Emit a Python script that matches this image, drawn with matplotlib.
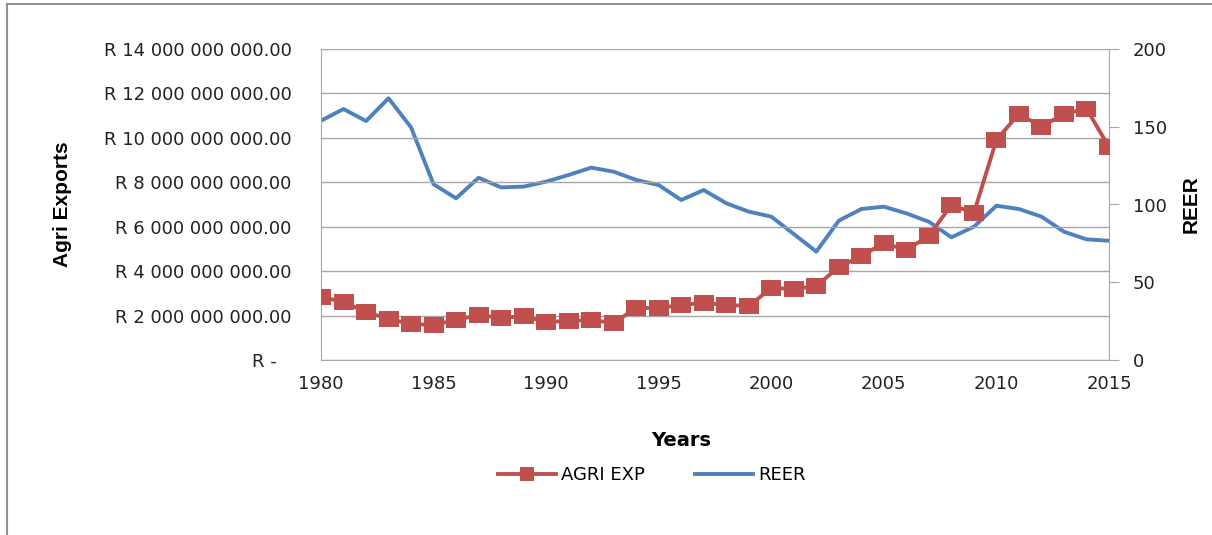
import matplotlib
matplotlib.use("Agg")
import matplotlib.pyplot as plt
from matplotlib.lines import Line2D
from matplotlib.path import Path
from matplotlib import font_manager

years = list(range(1980, 2016))
agri_exp = [2.84e9, 2.61e9, 2.16e9, 1.85e9, 1.62e9, 1.58e9, 1.80e9, 2.03e9, 1.89e9, 1.98e9,
            1.71e9, 1.76e9, 1.80e9, 1.67e9, 2.34e9, 2.34e9, 2.48e9, 2.57e9, 2.48e9, 2.43e9,
            3.24e9, 3.20e9, 3.33e9, 4.19e9, 4.68e9, 5.27e9, 4.95e9, 5.59e9, 6.98e9, 6.62e9,
            9.91e9, 11.08e9, 10.50e9, 11.08e9, 11.31e9, 9.59e9]
reer = [153.9, 161.4, 153.7, 168.3, 149.6, 113.0, 104.0, 117.2, 111.0, 111.5,
        114.7, 119.0, 123.7, 121.1, 115.8, 112.5, 102.9, 109.3, 100.8, 95.4,
        92.2, 81.0, 69.7, 89.6, 97.1, 98.6, 94.3, 88.9, 78.9, 85.7,
        99.2, 97.1, 92.2, 82.5, 77.6, 76.7]
left_ticks = [0, 2e9, 4e9, 6e9, 8e9, 10e9, 12e9, 14e9]
left_labels = ["R -  \u2009", "R 2 000 000 000.00", "R 4 000 000 000.00", "R 6 000 000 000.00",
               "R 8 000 000 000.00", "R 10 000 000 000.00", "R 12 000 000 000.00",
               "R 14 000 000 000.00"]
right_ticks = [0, 50, 100, 150, 200]
x_ticks = [1980, 1985, 1990, 1995, 2000, 2005, 2010, 2015]

RED = "#C0504D"
BLUE = "#4F81BD"
GRID = "#A6A6A6"
TXT = "#222222"

names = {f.name for f in font_manager.fontManager.ttflist}
narrow = "Liberation Sans Narrow" if "Liberation Sans Narrow" in names else "Liberation Sans"

rect = Path([(-1.3, -1), (1.3, -1), (1.3, 1), (-1.3, 1), (-1.3, -1)],
            [Path.MOVETO, Path.LINETO, Path.LINETO, Path.LINETO, Path.CLOSEPOLY])

fig = plt.figure(figsize=(12.12, 5.35), dpi=100)
ax = fig.add_axes([321/1212, 1-360/535, (1109-321)/1212, (360-49)/535])
ax2 = ax.twinx()

ax2.plot(years, reer, color=BLUE, lw=2.8, solid_joinstyle="round", zorder=2)
ax.plot(years, agri_exp, color=RED, lw=2.8, marker=rect, markersize=15,
        markeredgewidth=0, zorder=3)
ax.set_zorder(ax2.get_zorder() + 1)
ax.patch.set_visible(False)

ax.set_xlim(1980, 2015)
ax.set_ylim(0, 14e9)
ax2.set_ylim(0, 200)
ax.set_xticks(x_ticks)
ax.set_xticklabels([str(x) for x in x_ticks], fontsize=13, color=TXT)
ax.set_yticks(left_ticks)
ax.set_yticklabels(left_labels, fontsize=13, color=TXT)
ax2.set_yticks(right_ticks)
ax2.set_yticklabels([str(t) for t in right_ticks], fontsize=13, color=TXT)

ax.grid(axis="y", color=GRID, lw=1.0)
ax.set_axisbelow(True)
for a in (ax, ax2):
    for s in a.spines.values():
        s.set_visible(False)
for side in ("left", "right", "bottom"):
    ax2.spines[side].set_visible(True)
    ax2.spines[side].set_color(GRID)
ax.tick_params(axis="y", length=0, pad=21)
ax.tick_params(axis="x", length=0, pad=11)
ax2.tick_params(axis="y", length=7, color=GRID, pad=10)

fig.text(681/1212, 1-441/535, "Years", fontsize=14, fontweight="bold",
         ha="center", va="center")
yl = ax.set_ylabel("Agri Exports", fontsize=15, fontweight="bold", family=narrow)
yl.set_verticalalignment("center")
ax.yaxis.set_label_coords((63-321)/788, 0.5)
rl = ax2.set_ylabel("REER", fontsize=15, fontweight="bold", family=narrow)
rl.set_verticalalignment("center")
ax2.yaxis.set_label_coords((1191-321)/788, 0.5)

handles = [Line2D([], [], color=RED, lw=2.8, marker="s", markersize=9.5, markeredgewidth=0),
           Line2D([], [], color=BLUE, lw=2.8)]
fig.legend(handles, ["AGRI EXP", "REER"], loc="center", bbox_to_anchor=(652/1212, 1-475/535),
           ncol=2, frameon=False, fontsize=13, handlelength=3.2, columnspacing=2.8,
           handletextpad=0.3)

fig.add_artist(Line2D([7/1212, 7/1212], [0, 1-4/535], color="#909090", lw=1.5,
                      transform=fig.transFigure))
fig.add_artist(Line2D([7/1212, 1], [1-4/535, 1-4/535], color="#909090", lw=1.5,
                      transform=fig.transFigure))

fig.savefig("out.png", dpi=100)
